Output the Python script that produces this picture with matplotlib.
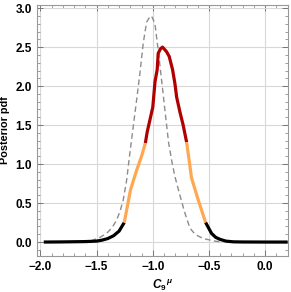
import numpy as np
import matplotlib.pyplot as plt
from matplotlib.ticker import MultipleLocator

plt.rcParams['font.family'] = ['Liberation Sans', 'DejaVu Sans']
plt.rcParams['mathtext.fontset'] = 'custom'
plt.rcParams['mathtext.rm'] = 'Liberation Sans:bold'
plt.rcParams['mathtext.it'] = 'Liberation Sans:italic:bold'
plt.rcParams['mathtext.bf'] = 'Liberation Sans:bold'

# posterior curve, split by credible region
black_left_x = [-1.97, -1.8, -1.6, -1.5, -1.45, -1.4, -1.35, -1.3, -1.254]
black_left_y = [0.0, 0.002, 0.006, 0.012, 0.025, 0.045, 0.08, 0.14, 0.25]
orange_left_x = [-1.254, -1.198, -1.144, -1.10, -1.066]
orange_left_y = [0.25, 0.67, 0.92, 1.10, 1.27]
red_x = [-1.066, -1.05, -1.0, -0.98, -0.961, -0.952, -0.931, -0.913, -0.877,
         -0.854, -0.824, -0.803, -0.788, -0.759, -0.730, -0.699]
red_y = [1.27, 1.41, 1.73, 2.06, 2.21, 2.42, 2.48, 2.50, 2.44,
         2.38, 2.21, 2.03, 1.86, 1.67, 1.50, 1.28]
orange_right_x = [-0.699, -0.655, -0.596, -0.530]
orange_right_y = [1.28, 0.82, 0.54, 0.25]
black_right_x = [-0.530, -0.477, -0.44, -0.403, -0.35, -0.285, -0.2, 0.0, 0.2]
black_right_y = [0.25, 0.11, 0.06, 0.035, 0.012, 0.003, 0.001, 0.0, 0.0]

# prior / other posterior (dashed)
dash_x = [-1.55, -1.53, -1.47, -1.411, -1.36, -1.322, -1.29, -1.263, -1.233,
          -1.204, -1.174, -1.144, -1.115, -1.085, -1.055, -1.03, -1.011,
          -0.981, -0.952, -0.922, -0.892, -0.86, -0.833, -0.803, -0.759,
          -0.714, -0.670, -0.63, -0.596, -0.55, -0.492, -0.44, -0.403]
dash_y = [0.01, 0.026, 0.06, 0.11, 0.19, 0.28, 0.40, 0.54, 0.79,
          1.14, 1.48, 1.82, 2.16, 2.55, 2.82, 2.88, 2.90,
          2.80, 2.46, 2.08, 1.69, 1.28, 1.05, 0.84, 0.60,
          0.37, 0.18, 0.11, 0.077, 0.045, 0.026, 0.01, 0.004]

fig = plt.figure(figsize=(2.91, 2.92), dpi=100)
ax = fig.add_axes([37/291, 1-255.7/292, (287.7-37)/291, (255.7-5)/292])

ax.grid(True, color='#d8d8d8', lw=0.8)
ax.set_axisbelow(True)

ax.plot(dash_x, dash_y, color='#8c8c8c', lw=1.0, ls=(0, (4, 2.5)))
lw = 2.3
ax.plot(black_left_x, black_left_y, color='black', lw=lw, solid_capstyle='butt')
ax.plot(orange_left_x, orange_left_y, color='#ffa852', lw=lw, solid_capstyle='butt')
ax.plot(red_x, red_y, color='#b00000', lw=lw, solid_capstyle='butt')
ax.plot(orange_right_x, orange_right_y, color='#ffa852', lw=lw, solid_capstyle='butt')
ax.plot(black_right_x, black_right_y, color='black', lw=lw, solid_capstyle='butt')

ax.set_xlim(-2.03, 0.2)
ax.set_ylim(-0.175, 3.04)
ax.xaxis.set_major_locator(MultipleLocator(0.5))
ax.xaxis.set_minor_locator(MultipleLocator(0.1))
ax.yaxis.set_major_locator(MultipleLocator(0.5))
ax.yaxis.set_minor_locator(MultipleLocator(0.1))
ax.xaxis.set_major_formatter(lambda v, p: f'{v:.1f}'.replace('-', '\u2212'))
ax.yaxis.set_major_formatter(lambda v, p: f'{v:.1f}')

ax.tick_params(which='both', direction='in', top=True, right=True, color='#777777')
ax.tick_params(which='major', length=4, width=0.7, labelsize=8.5)
ax.tick_params(which='minor', length=2, width=0.5)
for lab in ax.get_xticklabels() + ax.get_yticklabels():
    lab.set_fontweight('bold')
for s in ax.spines.values():
    s.set_color('#999999')
    s.set_linewidth(0.8)

ax.set_ylabel('Posterior pdf', fontsize=7.8, fontweight='bold', labelpad=4)
ax.set_xlabel(r'$C_{9}{}^{\,\mu}$', fontsize=8.5, labelpad=3)

fig.savefig('out.png', dpi=100)
